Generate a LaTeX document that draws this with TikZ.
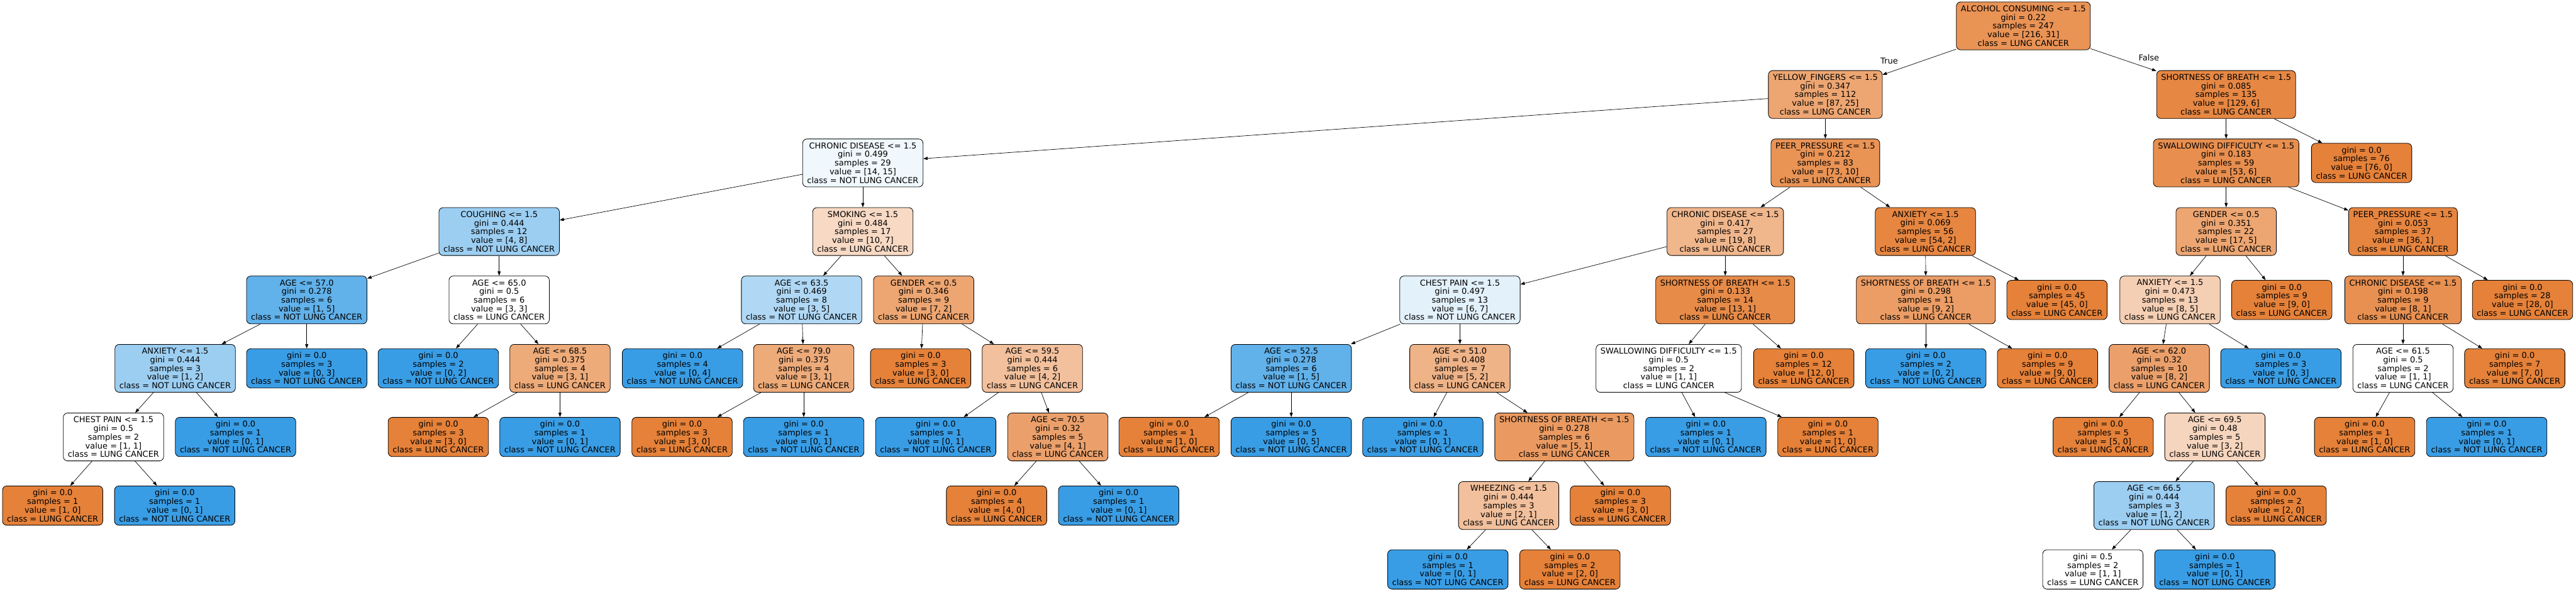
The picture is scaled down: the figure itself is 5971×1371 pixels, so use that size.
\documentclass[tikz,border=0pt]{standalone}
\usepackage{fontspec}
\setmainfont{DejaVu Sans}
\usetikzlibrary{arrows.meta}
\definecolor{orc}{RGB}{229,129,57}
\definecolor{blc}{RGB}{57,157,229}
\newcommand{\clL}{class = LUNG CANCER}
\newcommand{\clN}{class = NOT LUNG CANCER}
\begin{document}
\begin{tikzpicture}[x=0.5pt,y=-0.5pt,
  box/.style={draw=black, line width=0.6pt, rounded corners=5pt, align=center,
    inner xsep=5.25pt, inner ysep=0pt, font=\fontsize{9.45pt}{10pt}\selectfont},
  splitbox/.style={box, minimum height=55.5pt},
  leafbox/.style={box, minimum height=45.5pt},
  lorc/.style={leafbox, fill=orc},
  lblc/.style={leafbox, fill=blc},
  conn/.style={-{Triangle[length=5pt,width=3.6pt]}, line width=0.5pt},
  lbl/.style={font=\fontsize{9.45pt}{10pt}\selectfont, inner sep=0pt}]
\fill[white] (0,0) rectangle (5971,1371);
\useasboundingbox (0,0) rectangle (5971,1371);
% row 0
\node[splitbox, fill=orc!86!white] (n0) at (4690,60) {ALCOHOL CONSUMING <= 1.5\\gini = 0.22\\samples = 247\\value = [216, 31]\\\clL};
% row 1
\node[splitbox, fill=orc!71!white] (n1) at (4231,219) {YELLOW\_FINGERS <= 1.5\\gini = 0.347\\samples = 112\\value = [87, 25]\\\clL};
\node[splitbox, fill=orc!95!white] (n2) at (5160,219) {SHORTNESS OF BREATH <= 1.5\\gini = 0.085\\samples = 135\\value = [129, 6]\\\clL};
% row 2
\node[splitbox, fill=blc!7!white] (n3) at (2000,377.5) {CHRONIC DISEASE <= 1.5\\gini = 0.499\\samples = 29\\value = [14, 15]\\\clN};
\node[splitbox, fill=orc!86!white] (n4) at (4231,377.5) {PEER\_PRESSURE <= 1.5\\gini = 0.212\\samples = 83\\value = [73, 10]\\\clL};
\node[splitbox, fill=orc!89!white] (n5) at (5160,377.5) {SWALLOWING DIFFICULTY <= 1.5\\gini = 0.183\\samples = 59\\value = [53, 6]\\\clL};
\node[lorc] (n6) at (5474,377.5) {gini = 0.0\\samples = 76\\value = [76, 0]\\\clL};
% row 3
\node[splitbox, fill=blc!50!white] (n7) at (1157,536.5) {COUGHING <= 1.5\\gini = 0.444\\samples = 12\\value = [4, 8]\\\clN};
\node[splitbox, fill=orc!30!white] (n8) at (2000,536.5) {SMOKING <= 1.5\\gini = 0.484\\samples = 17\\value = [10, 7]\\\clL};
\node[splitbox, fill=orc!58!white] (n9) at (3999,536.5) {CHRONIC DISEASE <= 1.5\\gini = 0.417\\samples = 27\\value = [19, 8]\\\clL};
\node[splitbox, fill=orc!96!white] (n10) at (4463,536.5) {ANXIETY <= 1.5\\gini = 0.069\\samples = 56\\value = [54, 2]\\\clL};
\node[splitbox, fill=orc!71!white] (n11) at (5160,536.5) {GENDER <= 0.5\\gini = 0.351\\samples = 22\\value = [17, 5]\\\clL};
\node[splitbox, fill=orc!97!white] (n12) at (5570,536.5) {PEER\_PRESSURE <= 1.5\\gini = 0.053\\samples = 37\\value = [36, 1]\\\clL};
% row 4
\node[splitbox, fill=blc!80!white] (n13) at (711,695) {AGE <= 57.0\\gini = 0.278\\samples = 6\\value = [1, 5]\\\clN};
\node[splitbox, fill=white] (n14) at (1157,695) {AGE <= 65.0\\gini = 0.5\\samples = 6\\value = [3, 3]\\\clL};
\node[splitbox, fill=blc!40!white] (n15) at (1858,695) {AGE <= 63.5\\gini = 0.469\\samples = 8\\value = [3, 5]\\\clN};
\node[splitbox, fill=orc!71!white] (n16) at (2141,695) {GENDER <= 0.5\\gini = 0.346\\samples = 9\\value = [7, 2]\\\clL};
\node[splitbox, fill=blc!14!white] (n17) at (3384,695) {CHEST PAIN <= 1.5\\gini = 0.497\\samples = 13\\value = [6, 7]\\\clN};
\node[splitbox, fill=orc!92!white] (n18) at (3999,695) {SHORTNESS OF BREATH <= 1.5\\gini = 0.133\\samples = 14\\value = [13, 1]\\\clL};
\node[splitbox, fill=orc!78!white] (n19) at (4464,695) {SHORTNESS OF BREATH <= 1.5\\gini = 0.298\\samples = 11\\value = [9, 2]\\\clL};
\node[lorc] (n20) at (4768,695) {gini = 0.0\\samples = 45\\value = [45, 0]\\\clL};
\node[splitbox, fill=orc!38!white] (n21) at (5030,695) {ANXIETY <= 1.5\\gini = 0.473\\samples = 13\\value = [8, 5]\\\clL};
\node[lorc] (n22) at (5289,695) {gini = 0.0\\samples = 9\\value = [9, 0]\\\clL};
\node[splitbox, fill=orc!88!white] (n23) at (5570,695) {CHRONIC DISEASE <= 1.5\\gini = 0.198\\samples = 9\\value = [8, 1]\\\clL};
\node[lorc] (n24) at (5847,695) {gini = 0.0\\samples = 28\\value = [28, 0]\\\clL};
% row 5
\node[splitbox, fill=blc!50!white] (n25) at (406,853.5) {ANXIETY <= 1.5\\gini = 0.444\\samples = 3\\value = [1, 2]\\\clN};
\node[lblc] (n26) at (711,853.5) {gini = 0.0\\samples = 3\\value = [0, 3]\\\clN};
\node[lblc] (n27) at (1016,853.5) {gini = 0.0\\samples = 2\\value = [0, 2]\\\clN};
\node[splitbox, fill=orc!67!white] (n28) at (1298,853.5) {AGE <= 68.5\\gini = 0.375\\samples = 4\\value = [3, 1]\\\clL};
\node[lblc] (n29) at (1582,853.5) {gini = 0.0\\samples = 4\\value = [0, 4]\\\clN};
\node[splitbox, fill=orc!67!white] (n30) at (1863,853.5) {AGE <= 79.0\\gini = 0.375\\samples = 4\\value = [3, 1]\\\clL};
\node[lorc] (n31) at (2134,853.5) {gini = 0.0\\samples = 3\\value = [3, 0]\\\clL};
\node[splitbox, fill=orc!50!white] (n32) at (2393,853.5) {AGE <= 59.5\\gini = 0.444\\samples = 6\\value = [4, 2]\\\clL};
\node[splitbox, fill=blc!80!white] (n33) at (2993,853.5) {AGE <= 52.5\\gini = 0.278\\samples = 6\\value = [1, 5]\\\clN};
\node[splitbox, fill=orc!60!white] (n34) at (3384,853.5) {AGE <= 51.0\\gini = 0.408\\samples = 7\\value = [5, 2]\\\clL};
\node[splitbox, fill=white] (n35) at (3868,853.5) {SWALLOWING DIFFICULTY <= 1.5\\gini = 0.5\\samples = 2\\value = [1, 1]\\\clL};
\node[lorc] (n36) at (4181,853.5) {gini = 0.0\\samples = 12\\value = [12, 0]\\\clL};
\node[lblc] (n37) at (4464,853.5) {gini = 0.0\\samples = 2\\value = [0, 2]\\\clN};
\node[lorc] (n38) at (4746,853.5) {gini = 0.0\\samples = 9\\value = [9, 0]\\\clL};
\node[splitbox, fill=orc!75!white] (n39) at (5005,853.5) {AGE <= 62.0\\gini = 0.32\\samples = 10\\value = [8, 2]\\\clL};
\node[lblc] (n40) at (5287,853.5) {gini = 0.0\\samples = 3\\value = [0, 3]\\\clN};
\node[splitbox, fill=white] (n41) at (5570,853.5) {AGE <= 61.5\\gini = 0.5\\samples = 2\\value = [1, 1]\\\clL};
\node[lorc] (n42) at (5829,853.5) {gini = 0.0\\samples = 7\\value = [7, 0]\\\clL};
% row 6
\node[splitbox, fill=white] (n43) at (263,1012.5) {CHEST PAIN <= 1.5\\gini = 0.5\\samples = 2\\value = [1, 1]\\\clL};
\node[lblc] (n44) at (546,1012.5) {gini = 0.0\\samples = 1\\value = [0, 1]\\\clN};
\node[lorc] (n45) at (1016,1012.5) {gini = 0.0\\samples = 3\\value = [3, 0]\\\clL};
\node[lblc] (n46) at (1298,1012.5) {gini = 0.0\\samples = 1\\value = [0, 1]\\\clN};
\node[lorc] (n47) at (1581,1012.5) {gini = 0.0\\samples = 3\\value = [3, 0]\\\clL};
\node[lblc] (n48) at (1863,1012.5) {gini = 0.0\\samples = 1\\value = [0, 1]\\\clN};
\node[lblc] (n49) at (2169,1012.5) {gini = 0.0\\samples = 1\\value = [0, 1]\\\clN};
\node[splitbox, fill=orc!75!white] (n50) at (2452,1012.5) {AGE <= 70.5\\gini = 0.32\\samples = 5\\value = [4, 1]\\\clL};
\node[lorc] (n51) at (2710,1012.5) {gini = 0.0\\samples = 1\\value = [1, 0]\\\clL};
\node[lblc] (n52) at (2993,1012.5) {gini = 0.0\\samples = 5\\value = [0, 5]\\\clN};
\node[lblc] (n53) at (3298,1012.5) {gini = 0.0\\samples = 1\\value = [0, 1]\\\clN};
\node[splitbox, fill=orc!80!white] (n54) at (3626,1012.5) {SHORTNESS OF BREATH <= 1.5\\gini = 0.278\\samples = 6\\value = [5, 1]\\\clL};
\node[lblc] (n55) at (3954,1012.5) {gini = 0.0\\samples = 1\\value = [0, 1]\\\clN};
\node[lorc] (n56) at (4237,1012.5) {gini = 0.0\\samples = 1\\value = [1, 0]\\\clL};
\node[lorc] (n57) at (4875,1012.5) {gini = 0.0\\samples = 5\\value = [5, 0]\\\clL};
\node[splitbox, fill=orc!33!white] (n58) at (5134,1012.5) {AGE <= 69.5\\gini = 0.48\\samples = 5\\value = [3, 2]\\\clL};
\node[lorc] (n59) at (5481,1012.5) {gini = 0.0\\samples = 1\\value = [1, 0]\\\clL};
\node[lblc] (n60) at (5764,1012.5) {gini = 0.0\\samples = 1\\value = [0, 1]\\\clN};
% row 7
\node[lorc] (n61) at (122,1171.5) {gini = 0.0\\samples = 1\\value = [1, 0]\\\clL};
\node[lblc] (n62) at (405,1171.5) {gini = 0.0\\samples = 1\\value = [0, 1]\\\clN};
\node[lorc] (n63) at (2310,1171.5) {gini = 0.0\\samples = 4\\value = [4, 0]\\\clL};
\node[lblc] (n64) at (2593,1171.5) {gini = 0.0\\samples = 1\\value = [0, 1]\\\clN};
\node[splitbox, fill=orc!50!white] (n65) at (3497,1171.5) {WHEEZING <= 1.5\\gini = 0.444\\samples = 3\\value = [2, 1]\\\clL};
\node[lorc] (n66) at (3756,1171.5) {gini = 0.0\\samples = 3\\value = [3, 0]\\\clL};
\node[splitbox, fill=blc!50!white] (n67) at (4993,1171.5) {AGE <= 66.5\\gini = 0.444\\samples = 3\\value = [1, 2]\\\clN};
\node[lorc] (n68) at (5276,1171.5) {gini = 0.0\\samples = 2\\value = [2, 0]\\\clL};
% row 8
\node[lblc] (n69) at (3356,1319.5) {gini = 0.0\\samples = 1\\value = [0, 1]\\\clN};
\node[lorc] (n70) at (3639,1319.5) {gini = 0.0\\samples = 2\\value = [2, 0]\\\clL};
\node[leafbox, fill=white] (n71) at (4851,1319.5) {gini = 0.5\\samples = 2\\value = [1, 1]\\\clL};
\node[lblc] (n72) at (5134,1319.5) {gini = 0.0\\samples = 1\\value = [0, 1]\\\clN};
% labels
\node[lbl] (tl) at (4379,141) {True};
\node[lbl] (fl) at (4981,133) {False};
% edges
\foreach \a/\b in {n0/n1,n0/n2,n1/n3,n1/n4,n2/n5,n2/n6,
  n3/n7,n3/n8,n4/n9,n4/n10,n5/n11,n5/n12,
  n7/n13,n7/n14,n8/n15,n8/n16,n9/n17,n9/n18,n10/n19,n10/n20,n11/n21,n11/n22,n12/n23,n12/n24,
  n13/n25,n13/n26,n14/n27,n14/n28,n15/n29,n15/n30,n16/n31,n16/n32,n17/n33,n17/n34,n18/n35,n18/n36,
  n19/n37,n19/n38,n21/n39,n21/n40,n23/n41,n23/n42,
  n25/n43,n25/n44,n28/n45,n28/n46,n30/n47,n30/n48,n32/n49,n32/n50,n33/n51,n33/n52,n34/n53,n34/n54,
  n35/n55,n35/n56,n39/n57,n39/n58,n41/n59,n41/n60,
  n43/n61,n43/n62,n50/n63,n50/n64,n54/n65,n54/n66,n58/n67,n58/n68,
  n65/n69,n65/n70,n67/n71,n67/n72}
  \draw[conn] (\a) -- (\b);
\end{tikzpicture}
\end{document}
